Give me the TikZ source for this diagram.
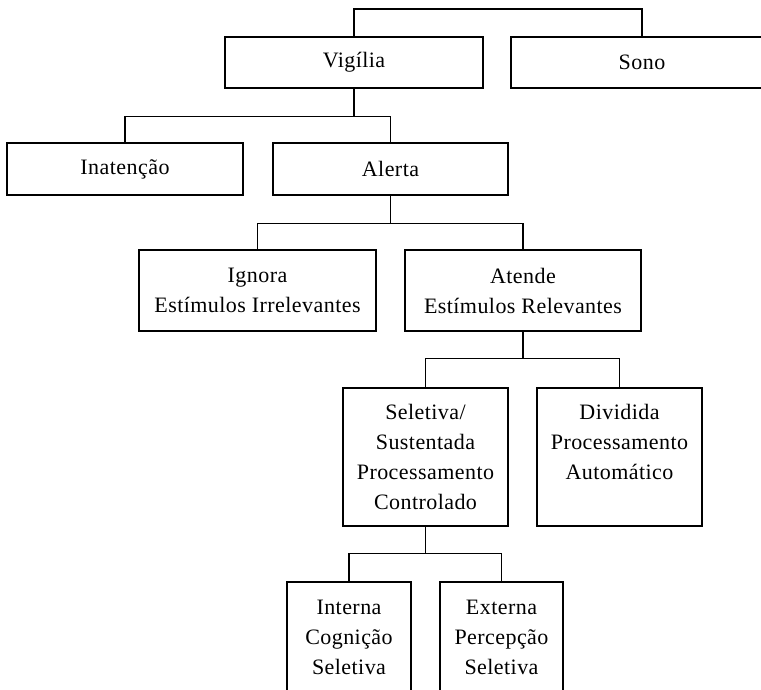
\documentclass[tikz,border=0pt]{standalone}
\usepackage{fontspec}
\setmainfont{Liberation Serif}[LetterSpace=2]
\usetikzlibrary{positioning}
\tikzset{
 box/.style={draw,line width=1.3pt,align=center,inner sep=0pt,font=\fontsize{22}{30}\selectfont},
 link/.style={line width=1.3pt}
}
\begin{document}
\begin{tikzpicture}[x=1pt,y=-1pt]
 \useasboundingbox(0,0)rectangle(761,689);
 \clip(0,0)rectangle(761,689);
 % first level
 \node[box,minimum width=258,minimum height=51](vigilia)at(354,62.5){Vigília};
 \node[box,minimum width=262,minimum height=51](sono)at(642,62.5){Sono};
 \coordinate(root)at(497,9);
 \draw[link](vigilia.north)|-(root)-|(sono.north);
 % vigilia
 \node[box,minimum width=236,minimum height=52](inatencao)at(125,169){Inatenção};
 \node[box,minimum width=235,minimum height=52](alerta)at(390.5,169){Alerta};
 \draw[link](vigilia.south)--++(0,28)coordinate(b1)-|(inatencao.north)(b1)-|(alerta.north);
 % alerta
 \node[box,minimum width=237,minimum height=81](ignora)at(257.5,290.5){Ignora\\Estímulos Irrelevantes};
 \node[box,minimum width=236,minimum height=81](atende)at(523,290.5){Atende\\Estímulos Relevantes};
 \draw[link](alerta.south)--++(0,28)coordinate(b2)-|(ignora.north)(b2)-|(atende.north);
 % atende
 \node[box,minimum width=165,minimum height=138](seletiva)at(425.5,457){Seletiva/\\Sustentada\\Processamento\\Controlado};
 \node[box,minimum width=165,minimum height=138](dividida)at(619.5,457){Dividida\\Processamento\\Automático\\\mbox{}};
 \draw[link](atende.south)--++(0,27)coordinate(b3)-|(seletiva.north)(b3)-|(dividida.north);
 % seletiva
 \node[box,minimum width=124,minimum height=110](interna)at(349,637){Interna\\Cognição\\Seletiva};
 \node[box,minimum width=123,minimum height=110](externa)at(501.5,637){Externa\\Percepção\\Seletiva};
 \draw[link](seletiva.south)--++(0,27)coordinate(b4)-|(interna.north)(b4)-|(externa.north);
\end{tikzpicture}
\end{document}
